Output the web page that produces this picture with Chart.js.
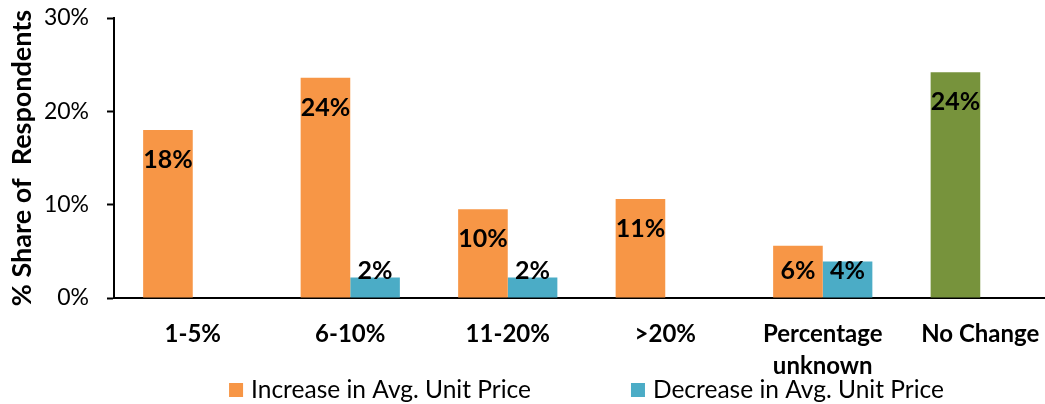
<!DOCTYPE html>
<html>
<head>
<meta charset="utf-8">
<script src="https://cdn.jsdelivr.net/npm/chart.js@4.4.0/dist/chart.umd.min.js"></script>
<style>
  html, body { margin: 0; padding: 0; background: #fff; overflow: hidden; }
  #priceChart { display: block; }
</style>
</head>
<body>
<canvas id="priceChart" width="1060" height="404"></canvas>
<script>
// price change buckets and share of respondents (%)
var categories = ['1-5%', '6-10%', '11-20%', '>20%', ['Percentage', 'unknown'], 'No Change'];
var increaseValues = [18.0, 23.6, 9.5, 10.6, 5.6, 24.2];
var decreaseValues = [null, 2.2, 2.2, null, 3.9, null];
var yTicks = [0, 10, 20, 30];

var ORANGE = '#F79646';
var TEAL = '#4BACC6';
var GREEN = '#77933C';
var FONT = 'Lato, "Open Sans", sans-serif';

Chart.defaults.font.family = FONT;
Chart.defaults.color = '#000';

// value labels drawn inside the top of each bar
var barLabels = {
    id: 'barLabels',
    afterDatasetsDraw: function (chart) {
        var ctx = chart.ctx;
        ctx.save();
        ctx.font = 'bold 25px ' + FONT;
        ctx.fillStyle = '#000';
        ctx.textAlign = 'center';
        ctx.textBaseline = 'middle';
        chart.data.datasets.forEach(function (ds, d) {
            chart.getDatasetMeta(d).data.forEach(function (bar, i) {
                var v = ds.data[i];
                if (v === null) return;
                var y = Math.min(bar.y + 30, bar.base - 27);
                ctx.fillText(Math.round(v) + '%', bar.x, y);
            });
        });
        ctx.restore();
    }
};

// legend centred under the plot area
var bottomLegend = {
    id: 'bottomLegend',
    afterDraw: function (chart) {
        var ctx = chart.ctx;
        var area = chart.chartArea;
        var items = [
            { text: chart.data.datasets[0].label, color: ORANGE },
            { text: chart.data.datasets[1].label, color: TEAL }
        ];
        var box = 14, gap = 8, itemGap = 100;
        ctx.save();
        ctx.font = '24.5px ' + FONT;
        var total = 0;
        items.forEach(function (it, i) {
            it.w = ctx.measureText(it.text).width;
            total += box + gap + it.w + (i > 0 ? itemGap : 0);
        });
        var x = (area.left + area.right) / 2 - total / 2;
        var cy = 390;
        ctx.textBaseline = 'middle';
        ctx.textAlign = 'left';
        items.forEach(function (it) {
            ctx.fillStyle = it.color;
            ctx.fillRect(x, cy - box / 2, box, box);
            ctx.fillStyle = '#000';
            ctx.fillText(it.text, x + box + gap, cy);
            x += box + gap + it.w + itemGap;
        });
        ctx.restore();
    }
};

var ctx = document.getElementById('priceChart');
var chart = new Chart(ctx, {
    type: 'bar',
    data: {
        labels: categories,
        datasets: [{
            label: 'Increase in Avg. Unit Price',
            data: increaseValues,
            backgroundColor: function (c) {
                return c.dataIndex === categories.length - 1 ? GREEN : ORANGE;
            },
            categoryPercentage: 0.63,
            barPercentage: 1.0
        }, {
            label: 'Decrease in Avg. Unit Price',
            data: decreaseValues,
            backgroundColor: TEAL,
            categoryPercentage: 0.63,
            barPercentage: 1.0
        }]
    },
    options: {
        responsive: false,
        animation: false,
        layout: { padding: { top: 18, right: 1, bottom: 0, left: 0 } },
        plugins: {
            legend: { display: false },
            tooltip: { enabled: false }
        },
        scales: {
            x: {
                grid: { display: false, drawTicks: false },
                border: { color: '#000', width: 2 },
                ticks: {
                    font: { size: 24, weight: 'bold', lineHeight: 1.35 },
                    padding: 20,
                    maxRotation: 0,
                    autoSkip: false
                },
                afterFit: function (scale) { scale.height = 106; }
            },
            y: {
                min: 0,
                max: 30,
                afterBuildTicks: function (scale) {
                    scale.ticks = yTicks.map(function (v) { return { value: v }; });
                },
                grid: { drawOnChartArea: false, tickLength: 7, tickColor: '#000', tickWidth: 2 },
                border: { color: '#000', width: 2 },
                ticks: {
                    font: { size: 23 },
                    padding: 18,
                    callback: function (v) { return v + '%'; }
                },
                title: {
                    display: true,
                    text: '% Share of  Respondents',
                    font: { size: 27, weight: 'bold' },
                    padding: { top: 6, bottom: 0 }
                },
                afterFit: function (scale) {
                    scale.width = 114;
                    // tick padding would otherwise push the plot top down
                    scale.paddingTop = 0;
                }
            }
        }
    },
    plugins: [barLabels, bottomLegend]
});
</script>
</body>
</html>
